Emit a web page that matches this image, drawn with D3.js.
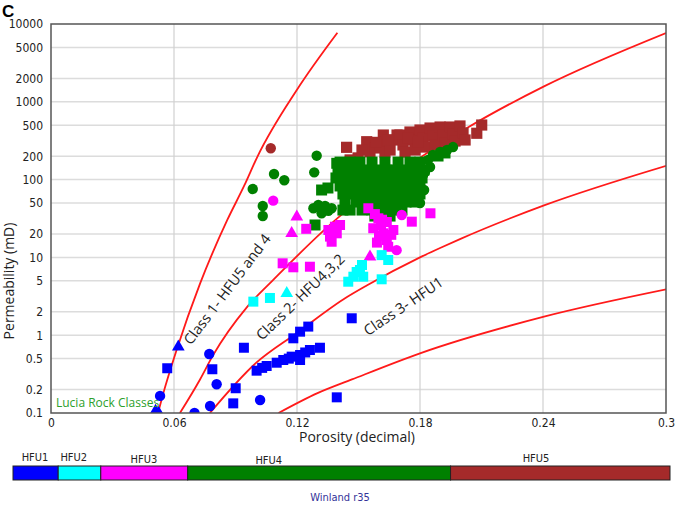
<!DOCTYPE html>
<html><head><meta charset="utf-8">
<script src="https://cdn.jsdelivr.net/npm/d3@7"></script>
<style>
body{margin:0;background:#fff;}
svg{display:block;}
</style></head>
<body>
<script>
// ---------- data ----------
const xTicks = [0, 0.06, 0.12, 0.18, 0.24, 0.3];
const xTickLabels = ["0", "0.06", "0.12", "0.18", "0.24", "0.3"];
const yTicks = [0.1, 0.2, 0.5, 1, 2, 5, 10, 20, 50, 100, 200, 500, 1000, 2000, 5000, 10000];
const yTickLabels = ["0.1","0.2","0.5","1","2","5","10","20","50","100","200","500","1000","2000","5000","10000"];

// Lucia rock-class boundary curves [porosity, permeability]
const curve1 = [[0.0522,0.1],[0.0548,0.18],[0.0613,0.65],[0.0727,4.6],[0.0860,30.3],[0.0943,84],[0.1006,195],[0.1199,1420],[0.1397,7730]];
const curve2 = [[0.0629,0.1],[0.0727,0.27],[0.0790,0.55],[0.0956,2.3],[0.1083,5.1],[0.1424,36.5],[0.1541,63],[0.2029,460],[0.2405,1580],[0.3,7660]];
const curve3 = [[0.0775,0.1],[0.1000,0.44],[0.1200,1.07],[0.1442,3.07],[0.1540,4.35],[0.1800,10.0],[0.1898,13.2],[0.1995,17.2],[0.2405,46.6],[0.3003,151]];
const curve4 = [[0.111,0.1],[0.130,0.18],[0.1468,0.27],[0.180,0.585],[0.2405,1.73],[0.3003,3.89]];

// samples by hydraulic flow unit: [porosity, permeability, marker]
const hfu1 = [
 [0.0621,0.71,"t"],[0.0567,0.376,"s"],[0.0532,0.166,"c"],[0.0510,0.106,"t"],[0.0525,0.1,"t"],
 [0.0772,0.573,"c"],[0.0787,0.365,"s"],[0.0808,0.234,"c"],[0.0776,0.123,"c"],[0.0700,0.1,"c"],
 [0.0941,0.69,"s"],[0.0901,0.208,"s"],[0.0889,0.133,"s"],[0.1020,0.147,"c"],
 [0.1003,0.35,"s"],[0.1030,0.38,"s"],[0.1052,0.402,"s"],[0.1101,0.443,"s"],[0.1133,0.48,"s"],
 [0.1160,0.50,"s"],[0.1174,0.53,"s"],[0.1215,0.557,"s"],[0.1215,0.48,"s"],[0.1240,0.60,"s"],
 [0.1263,0.645,"s"],[0.1312,0.69,"s"],[0.1182,0.912,"s"],[0.1215,1.11,"s"],[0.1255,1.29,"s"],
 [0.1467,1.65,"s"],[0.1394,0.159,"s"]
];
const hfu2 = [
 [0.0987,2.70,"s"],[0.1068,3.01,"s"],[0.1150,3.46,"t"],[0.1450,4.87,"s"],[0.1475,5.65,"s"],
 [0.1491,6.49,"s"],[0.1507,6.89,"s"],[0.1517,7.98,"s"],[0.1523,5.65,"s"],[0.1613,5.23,"s"],
 [0.1613,10.7,"s"],[0.1645,9.26,"s"]
];
const hfu3 = [
 [0.1084,53.6,"c"],[0.1130,8.40,"s"],[0.1182,7.46,"s"],[0.1263,7.59,"s"],[0.1199,33.3,"t"],
 [0.1174,20.4,"t"],[0.1245,23.3,"s"],[0.1353,22.5,"s"],[0.1385,24.8,"s"],[0.1410,26.1,"s"],
 [0.1361,18.5,"s"],[0.1369,15.9,"s"],[0.1394,20.4,"s"],[0.1548,42.8,"s"],[0.1597,31.8,"s"],
 [0.1638,28.5,"s"],[0.1572,23.7,"s"],[0.1621,20.4,"s"],[0.1670,22.5,"s"],[0.1638,16.7,"s"],
 [0.1645,13.7,"s"],[0.1711,35.1,"c"],[0.1760,28.8,"s"],[0.1851,36.9,"s"],[0.1686,12.4,"c"],
 [0.1556,10.2,"t"],[0.1580,36,"s"],[0.1610,26,"s"],[0.1600,19,"s"],
 [0.1590,15.5,"s"],[0.1660,19.5,"s"],[0.1615,30.5,"s"]
];
const hfu4 = [
 [0.1296,203,"c"],[0.1284,124,"c"],[0.1088,118,"c"],[0.1138,98,"c"],[0.0984,75.7,"c"],
 [0.1033,45.8,"c"],[0.1033,34,"c"],[0.1280,42.8,"c"],[0.1304,47.2,"c"],[0.1337,45.8,"c"],
 [0.1320,36.9,"c"],[0.1353,39.8,"c"],[0.1369,42.8,"c"],
 [0.1320,73.5,"s"],[0.1351,78,"s"],[0.1394,162,"s"],[0.1424,40.6,"s"],[0.1288,26.1,"s"],
 [0.1410,168,"s"],[0.1459,168,"s"],[0.1507,168,"s"],[0.1566,168,"s"],[0.1629,168,"s"],[0.1693,168,"s"],[0.1751,168,"s"],[0.1800,168,"s"],
 [0.1400,133,"s"],[0.1444,133,"s"],[0.1488,133,"s"],[0.1537,133,"s"],[0.1585,133,"s"],[0.1634,133,"s"],[0.1683,133,"s"],[0.1732,133,"s"],[0.1780,133,"s"],[0.1820,133,"s"],
 [0.1390,105,"s"],[0.1434,105,"s"],[0.1478,105,"s"],[0.1527,105,"s"],[0.1576,105,"s"],[0.1624,105,"s"],[0.1673,105,"s"],[0.1722,105,"s"],[0.1771,105,"s"],[0.1810,105,"s"],
 [0.1410,82.8,"s"],[0.1459,82.8,"s"],[0.1507,82.8,"s"],[0.1556,82.8,"s"],[0.1605,82.8,"s"],[0.1654,82.8,"s"],[0.1702,82.8,"s"],[0.1751,82.8,"s"],[0.1800,82.8,"s"],
 [0.1424,65.3,"s"],[0.1473,65.3,"s"],[0.1522,65.3,"s"],[0.1571,65.3,"s"],[0.1620,65.3,"s"],[0.1668,65.3,"s"],[0.1717,65.3,"s"],[0.1766,65.3,"s"],[0.1800,65.3,"s"],
 [0.1434,51.5,"s"],[0.1488,51.5,"s"],[0.1537,51.5,"s"],[0.1585,51.5,"s"],[0.1634,51.5,"s"],[0.1683,51.5,"s"],[0.1732,51.5,"s"],[0.1776,51.5,"s"],
 [0.1459,40.6,"s"],[0.1517,40.6,"s"],[0.1566,40.6,"s"],[0.1615,40.6,"s"],[0.1663,40.6,"s"],[0.1712,40.6,"s"],
 [0.1580,34,"s"],[0.1654,34,"s"],
 [0.1839,179,"c"],[0.1863,207,"c"],[0.1898,226,"c"],[0.1932,240,"c"],[0.1961,262,"c"],[0.1849,145,"c"],[0.1824,125,"c"],
 [0.1888,201,"s"],[0.1922,220,"s"],[0.1815,115,"c"],[0.1820,73.5,"c"],[0.1800,50,"c"]
];
const hfu5 = [
 [0.1072,253,"c"],
 [0.1442,260,"s"],[0.1459,179,"s"],[0.1498,190,"s"],[0.1540,307,"s"],[0.1556,228,"s"],[0.1580,255,"s"],
 [0.1621,374,"s"],[0.1605,279,"s"],[0.1629,226,"s"],[0.1668,323,"s"],[0.1654,240,"s"],[0.1688,374,"s"],
 [0.1702,374,"s"],[0.1717,279,"s"],[0.1727,226,"s"],[0.1751,409,"s"],[0.1766,323,"s"],[0.1776,240,"s"],
 [0.1800,434,"s"],[0.1815,343,"s"],[0.1824,262,"s"],[0.1849,460,"s"],[0.1863,363,"s"],[0.1873,279,"s"],
 [0.1898,474,"s"],[0.1912,374,"s"],[0.1922,295,"s"],[0.1946,474,"s"],[0.1961,385,"s"],[0.1971,313,"s"],
 [0.1995,489,"s"],[0.2010,397,"s"],[0.2020,323,"s"],[0.2077,394,"s"],[0.2101,503,"s"],
 [0.1517,240,"s"],[0.1585,301,"s"],[0.1644,323,"s"],[0.1741,343,"s"],[0.1790,305,"s"]
];

const hfuNames = ["HFU1","HFU2","HFU3","HFU4","HFU5"];
const hfuColors = ["#0000ff","#00ffff","#ff00ff","#008000","#a52a2a"];
const hfuBreaks = [0, 0.0688, 0.1336, 0.2659, 0.6660, 1.0]; // Winland r35 bar (relative)

const classLabels = [
 {text:"Class 1- HFU5 and 4", phi:0.0683, k:0.73, angle:-53},
 {text:"Class 2- HFU4,3,2",  phi:0.1029, k:0.84, angle:-44},
 {text:"Class 3- HFU1",      phi:0.1546, k:0.97, angle:-34}
];

// ---------- drawing ----------
const W = 685, H = 507;
const svg = d3.select("body").append("svg").attr("width", W).attr("height", H);
const L = 51, R = 666, T = 24, B = 413;
const x = d3.scaleLinear().domain([0, 0.3]).range([L, R]);
const y = d3.scaleLog().domain([0.1, 10000]).range([B, T]);

const tickFont = "'DejaVu Sans Condensed','Liberation Sans',sans-serif";
const titleFont = "'Open Sans','Noto Sans',sans-serif";

svg.append("text").attr("x", 2).attr("y", 17).text("C")
  .attr("font-family", "'Liberation Sans',Arial,sans-serif").attr("font-weight", "bold").attr("font-size", 17);

// grid
const grid = svg.append("g");
grid.selectAll("line.h").data(yTicks.filter(d => d > 0.1 && d < 10000)).join("line")
  .attr("x1", L).attr("x2", R).attr("y1", d => y(d)).attr("y2", d => y(d))
  .attr("stroke", "#dcdcdc").attr("stroke-width", 1.5);
grid.selectAll("line.v").data(xTicks.filter(d => d > 0 && d < 0.3)).join("line")
  .attr("x1", d => x(d)).attr("x2", d => x(d)).attr("y1", T).attr("y2", B)
  .attr("stroke", "#d0d0d0").attr("stroke-width", 1.2);

// axes
const yAxis = d3.axisLeft(y).tickValues(yTicks).tickFormat((d, i) => yTickLabels[i]).tickSize(0).tickPadding(8);
const gy = svg.append("g").attr("transform", `translate(${L},0)`).call(yAxis);
gy.select(".domain").remove();
gy.selectAll("text").attr("font-family", tickFont).attr("font-size", 12).attr("fill", "#222");

const xAxis = d3.axisBottom(x).tickValues(xTicks).tickFormat((d, i) => xTickLabels[i]).tickSize(0).tickPadding(5);
const gx = svg.append("g").attr("transform", `translate(0,${B})`).call(xAxis);
gx.select(".domain").remove();
gx.selectAll("text").attr("font-family", tickFont).attr("font-size", 12).attr("fill", "#222");

// clip
svg.append("clipPath").attr("id", "plotclip").append("rect")
  .attr("x", L).attr("y", T).attr("width", R - L).attr("height", B - T);
const plot = svg.append("g").attr("clip-path", "url(#plotclip)");

// class labels
classLabels.forEach(c => {
  svg.append("text").attr("transform", `translate(${x(c.phi)},${y(c.k)}) rotate(${c.angle})`)
    .text(c.text).attr("font-family", titleFont).attr("font-size", 14.5).attr("fill", "#222");
});

// curves
const line = d3.line().x(d => x(d[0])).y(d => y(d[1])).curve(d3.curveMonotoneX);
[curve1, curve2, curve3, curve4].forEach(c => {
  plot.append("path").attr("d", line(c)).attr("fill", "none").attr("stroke", "#ff1a1a").attr("stroke-width", 1.8);
});

// points
const symType = {s: d3.symbolSquare, c: d3.symbolCircle, t: d3.symbolTriangle};
const groups = [hfu5, hfu4, hfu3, hfu2, hfu1];
const groupColors = [hfuColors[4], hfuColors[3], hfuColors[2], hfuColors[1], hfuColors[0]];
const squareSize = [125, 121, 100, 100, 100];
groups.forEach((g, gi) => {
  const sz = {s: squareSize[gi], c: 85, t: 70};
  plot.append("g").selectAll("path").data(g).join("path")
    .attr("transform", d => `translate(${x(d[0])},${y(d[1])})`)
    .attr("d", d => d3.symbol().type(symType[d[2]]).size(sz[d[2]])())
    .attr("fill", groupColors[gi]);
});

// frame
svg.append("rect").attr("x", L).attr("y", T).attr("width", R - L).attr("height", B - T)
  .attr("fill", "none").attr("stroke", "#555").attr("stroke-width", 1.5);

svg.append("text").attr("x", 56).attr("y", 407).text("Lucia Rock Classes")
  .attr("font-family", titleFont).attr("font-size", 12).attr("fill", "#2ca02c");

// axis titles
svg.append("text").attr("x", 357).attr("y", 442).attr("text-anchor", "middle").text("Porosity (decimal)")
  .attr("font-family", titleFont).attr("font-size", 14).attr("fill", "#222");
svg.append("text").attr("transform", "translate(14,281) rotate(-90)").attr("text-anchor", "middle")
  .text("Permeability (mD)").attr("font-family", titleFont).attr("font-size", 14).attr("fill", "#222");

// HFU bar
const bx = d3.scaleLinear().domain([0, 1]).range([13, 670]);
const bar = svg.append("g");
hfuNames.forEach((n, i) => {
  bar.append("rect").attr("x", bx(hfuBreaks[i])).attr("y", 466)
    .attr("width", bx(hfuBreaks[i + 1]) - bx(hfuBreaks[i])).attr("height", 14)
    .attr("fill", hfuColors[i]).attr("stroke", "#222").attr("stroke-width", 1);
});
const labelX = [0.0335, 0.0925, 0.1992, 0.3893, 0.7960];
const labelDy = [0, 0, 2, 3, 1];
hfuNames.forEach((n, i) => {
  bar.append("text").attr("x", bx(labelX[i])).attr("y", 461 + labelDy[i]).attr("text-anchor", "middle")
    .text(n).attr("font-family", tickFont).attr("font-size", 11).attr("fill", "#222");
});
svg.append("text").attr("x", 340).attr("y", 501).attr("text-anchor", "middle").text("Winland r35")
  .attr("font-family", tickFont).attr("font-size", 11).attr("fill", "#333399");
</script>
</body></html>
